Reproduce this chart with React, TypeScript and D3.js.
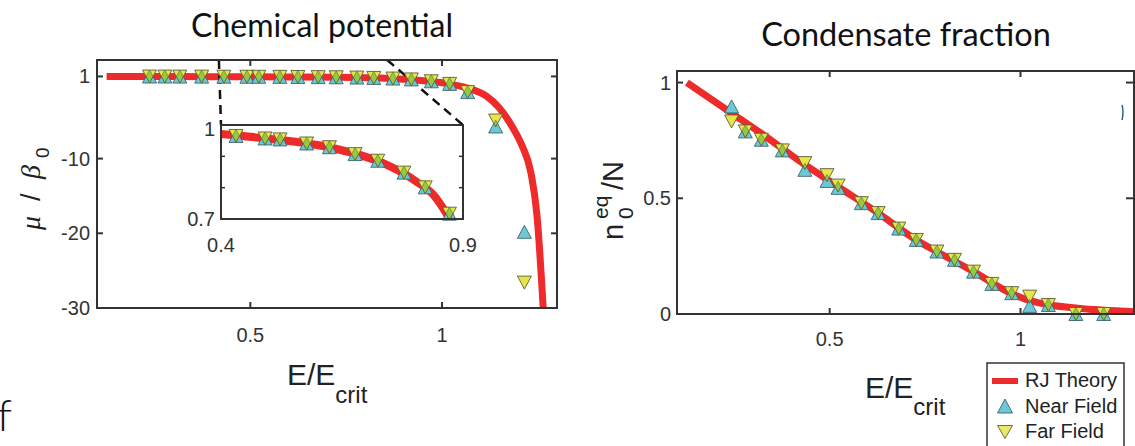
import React from 'react';
import * as d3 from 'd3';

// ---------- data ----------
const muX = [0.237, 0.277, 0.316, 0.373, 0.431, 0.491, 0.522, 0.577, 0.624, 0.677, 0.724, 0.778, 0.822, 0.872, 0.92, 0.972, 1.02, 1.067, 1.14, 1.215];
const muNear = [0.99, 0.985, 0.98, 0.975, 0.965, 0.957, 0.954, 0.941, 0.929, 0.907, 0.886, 0.848, 0.801, 0.717, 0.6, 0.35, 0.0, -1.1, -5.7, -19.8];
const muFar = [0.99, 0.985, 0.98, 0.975, 0.965, 0.957, 0.954, 0.941, 0.929, 0.907, 0.886, 0.848, 0.801, 0.717, 0.6, 0.35, 0.0, -1.1, -4.9, -26.6];
const muTheoryX = [0.125, 0.2, 0.3, 0.4, 0.494, 0.632, 0.735, 0.804, 0.839, 0.87, 0.92, 0.97, 1.018, 1.078, 1.115, 1.149, 1.183, 1.209, 1.232, 1.248, 1.264];
const muTheoryY = [1.0, 0.995, 0.985, 0.971, 0.957, 0.926, 0.878, 0.819, 0.777, 0.707, 0.56, 0.32, 0.0, -0.75, -1.6, -3.2, -5.7, -8.3, -11.9, -17.7, -30];

const fracX = [0.243, 0.279, 0.321, 0.376, 0.435, 0.493, 0.522, 0.583, 0.627, 0.681, 0.727, 0.781, 0.827, 0.877, 0.925, 0.977, 1.024, 1.073, 1.145, 1.218];
const fracNear = [0.897, 0.789, 0.753, 0.707, 0.623, 0.575, 0.545, 0.479, 0.436, 0.369, 0.32, 0.27, 0.234, 0.183, 0.13, 0.09, 0.035, 0.039, 0.0, 0.0];
const fracFar = [0.832, 0.789, 0.753, 0.707, 0.652, 0.6, 0.555, 0.479, 0.436, 0.369, 0.32, 0.27, 0.234, 0.183, 0.13, 0.09, 0.075, 0.039, 0.0, 0.0];
const fracTheoryX = [0.126, 0.243, 0.321, 0.435, 0.522, 0.627, 0.727, 0.78, 0.877, 0.974, 1.02, 1.078, 1.15, 1.3];
const fracTheoryY = [1.0, 0.868, 0.78, 0.645, 0.55, 0.436, 0.32, 0.27, 0.183, 0.09, 0.06, 0.039, 0.025, 0.01];

const xTicks = [0.5, 1];
const muTicksY = [1, -10, -20, -30];
const insetTicksY = [0.8, 0.9];
const insetLabelsX = [0.4, 0.9];
const insetLabelsY = [1, 0.7];
const fracTicksY = [0, 0.5, 1];
const legendLabels = ['RJ Theory', 'Near Field', 'Far Field'];
const titles = ['Chemical potential', 'Condensate fraction'];
// inset zoom window, in main-axis units
const zoomEdges = [0.418, 0.857];

// ---------- styles ----------
const RED = '#ee2a2a';
const NEAR = '#6cc8d6';
const FAR = '#e6e64a';
const AX = '#333333';
const SANS = '"Liberation Sans", Arial, sans-serif';
const TITLE = 'Lato, "Open Sans", sans-serif';
const SERIF = '"Liberation Serif", "DejaVu Serif", serif';

const TW = 14, TH = 13;
function tri(up: boolean, cx: number, cy: number, w = TW, h = TH) {
  if (up) return `M${cx},${cy - h / 2}L${cx + w / 2},${cy + h / 2}L${cx - w / 2},${cy + h / 2}Z`;
  return `M${cx},${cy + h / 2}L${cx + w / 2},${cy - h / 2}L${cx - w / 2},${cy - h / 2}Z`;
}

function Markers({ xs, near, far, x, y, keyp }: any) {
  return (
    <g style={{ isolation: 'isolate' }}>
      {xs.map((v: number, i: number) => (
        <path key={keyp + 'n' + i} d={tri(true, x(v), y(near[i]))} fill={NEAR} stroke="#3f6470" strokeWidth={0.9} />
      ))}
      {xs.map((v: number, i: number) => (
        <path key={keyp + 'm' + i} d={tri(false, x(v), y(far[i]))} fill={FAR} style={{ mixBlendMode: 'multiply' }} />
      ))}
      {xs.map((v: number, i: number) => (
        <path key={keyp + 'f' + i} d={tri(false, x(v), y(far[i]))} fill={FAR} fillOpacity={0.4} stroke="#5d5d3a" strokeWidth={0.9} />
      ))}
    </g>
  );
}

function Box({ x0, x1, y0, y1 }: any) {
  return <rect x={x0} y={y0} width={x1 - x0} height={y1 - y0} fill="none" stroke={AX} strokeWidth={2} />;
}

export default function App() {
  // left panel
  const xL = d3.scaleLinear().domain([0.1, 1.3]).range([97, 557]);
  const yL = d3.scaleLinear().domain([-30, 3.2]).range([308, 60]);
  // inset
  const xI = d3.scaleLinear().domain([0.4, 0.9]).range([221, 463]);
  const yI = d3.scaleLinear().domain([0.7, 1]).range([219, 125]);
  // right panel
  const xR = d3.scaleLinear().domain([0.1, 1.3]).range([677, 1135]);
  const yR = d3.scaleLinear().domain([0, 1.05]).range([314, 71]);

  const muTheory = muTheoryX.map((v, i) => [v, muTheoryY[i]] as [number, number]);
  const fracTheory = fracTheoryX.map((v, i) => [v, fracTheoryY[i]] as [number, number]);

  const lineL = d3.line<[number, number]>().x(d => xL(d[0])).y(d => yL(d[1])).curve(d3.curveMonotoneX);
  const lineI = d3.line<[number, number]>().x(d => xI(d[0])).y(d => yI(d[1])).curve(d3.curveMonotoneX);
  const lineR = d3.line<[number, number]>().x(d => xR(d[0])).y(d => yR(d[1])).curve(d3.curveMonotoneX);

  const inIdx = muX.map((v, i) => i).filter(i => muX[i] >= 0.4 && muX[i] <= 0.9);

  const [lx0, lx1] = xL.range();
  const [ly0, ly1] = [yL.range()[1], yL.range()[0]];
  const [ix0, ix1] = xI.range();
  const [iy0, iy1] = [yI.range()[1], yI.range()[0]];
  const [rx0, rx1] = [xR.range()[0], xR.range()[1] - 1];
  const [ry0, ry1] = [yR.range()[1], yR.range()[0]];

  return (
    <svg width={1135} height={446} style={{ position: 'absolute', left: 0, top: 0, background: '#fff' }}>
      <defs>
        <clipPath id="clipL"><rect x={lx0} y={ly0} width={lx1 - lx0} height={ly1 - ly0} /></clipPath>
        <clipPath id="clipI"><rect x={ix0} y={iy0} width={ix1 - ix0} height={iy1 - iy0} /></clipPath>
        <clipPath id="clipR"><rect x={rx0} y={ry0} width={rx1 - rx0} height={ry1 - ry0} /></clipPath>
      </defs>
      <rect x={0} y={0} width={1135} height={446} fill="#fff" />

      {/* titles */}
      <text x={322} y={37} textAnchor="middle" fontFamily={TITLE} fontSize={32} fill="#111">{titles[0]}</text>
      <text x={906} y={46} textAnchor="middle" fontFamily={TITLE} fontSize={32.5} fill="#111">{titles[1]}</text>
      <text x={-3} y={431} fontFamily={TITLE} fontWeight={300} fontSize={44} fill="#111">f</text>

      {/* ===== Left panel ===== */}
      <g clipPath="url(#clipL)">
        <path d={lineL(muTheory) || ''} fill="none" stroke={RED} strokeWidth={7} />
      </g>
      {/* dashed zoom connectors */}
      <line x1={xL(zoomEdges[0])} y1={yL(3.2)} x2={xI(0.4)} y2={yI(1)} stroke="#111" strokeWidth={2.5} strokeDasharray="9,6" />
      <line x1={xL(zoomEdges[1])} y1={yL(3.2)} x2={xI(0.9)} y2={yI(1)} stroke="#111" strokeWidth={2.5} strokeDasharray="9,6" />
      <Markers xs={muX} near={muNear} far={muFar} x={xL} y={yL} keyp="L" />
      <Box x0={lx0} x1={lx1} y0={ly0} y1={ly1} />
      {xTicks.map(t => (
        <g key={'lxt' + t}>
          <line x1={xL(t)} x2={xL(t)} y1={ly1} y2={ly1 - 6} stroke={AX} strokeWidth={2} />
          <line x1={xL(t)} x2={xL(t)} y1={ly0} y2={ly0 + 6} stroke={AX} strokeWidth={2} />
          <text x={xL(t)} y={342} textAnchor="middle" fontFamily={SANS} fontSize={20} fill="#333">{String(t)}</text>
        </g>
      ))}
      {muTicksY.map(t => (
        <g key={'lyt' + t}>
          <line x1={lx0} x2={lx0 + 6} y1={yL(t)} y2={yL(t)} stroke={AX} strokeWidth={2} />
          <line x1={lx1} x2={lx1 - 6} y1={yL(t)} y2={yL(t)} stroke={AX} strokeWidth={2} />
          <text x={90} y={yL(t) + 7} textAnchor="end" fontFamily={SANS} fontSize={20} fill="#333">{String(t)}</text>
        </g>
      ))}
      {/* left x label */}
      <text x={287} y={385} fontFamily={SANS} fontSize={30} fill="#222">E/E<tspan dy={18} fontSize={24}>crit</tspan></text>
      {/* left y label */}
      <g transform="translate(40,0) rotate(-90)">
        <text x={-230} y={0} fontFamily={SERIF} fontStyle="italic" fontSize={28} fill="#222">μ</text>
        <text x={-201} y={0} fontFamily={SANS} fontSize={27} fill="#222">/</text>
        <text x={-179} y={0} fontFamily={SERIF} fontStyle="italic" fontSize={28} fill="#222">β</text>
        <text x={-158} y={9} fontFamily={SANS} fontSize={19} fill="#222">0</text>
      </g>

      {/* ===== Inset ===== */}
      <rect x={ix0} y={iy0} width={ix1 - ix0} height={iy1 - iy0} fill="#fff" />
      <g clipPath="url(#clipI)">
        <path d={lineI(muTheory) || ''} fill="none" stroke={RED} strokeWidth={8} />
      </g>
      <Markers xs={inIdx.map(i => muX[i])} near={inIdx.map(i => muNear[i])} far={inIdx.map(i => muFar[i])} x={xI} y={yI} keyp="I" />
      <Box x0={ix0} x1={ix1} y0={iy0} y1={iy1} />
      {insetTicksY.map(t => (
        <g key={'iyt' + t}>
          <line x1={ix0} x2={ix0 + 4} y1={yI(t)} y2={yI(t)} stroke={AX} strokeWidth={1.5} />
          <line x1={ix1} x2={ix1 - 4} y1={yI(t)} y2={yI(t)} stroke={AX} strokeWidth={1.5} />
        </g>
      ))}
      {insetLabelsY.map(t => (
        <text key={'iyl' + t} x={215} y={yI(t) + 7 + (t === 1 ? 4 : 0)} textAnchor="end" fontFamily={SANS} fontSize={20} fill="#333">{String(t)}</text>
      ))}
      {insetLabelsX.map(t => (
        <text key={'ixl' + t} x={xI(t)} y={252} textAnchor="middle" fontFamily={SANS} fontSize={20} fill="#333">{String(t)}</text>
      ))}

      {/* ===== Right panel ===== */}
      <g clipPath="url(#clipR)">
        <path d={lineR(fracTheory) || ''} fill="none" stroke={RED} strokeWidth={7} />
      </g>
      <Markers xs={fracX} near={fracNear} far={fracFar} x={xR} y={yR} keyp="R" />
      <Box x0={rx0} x1={rx1} y0={ry0} y1={ry1} />
      {xTicks.map(t => (
        <g key={'rxt' + t}>
          <line x1={xR(t)} x2={xR(t)} y1={ry1} y2={ry1 - 6} stroke={AX} strokeWidth={2} />
          <line x1={xR(t)} x2={xR(t)} y1={ry0} y2={ry0 + 6} stroke={AX} strokeWidth={2} />
          <text x={xR(t)} y={346} textAnchor="middle" fontFamily={SANS} fontSize={20} fill="#333">{String(t)}</text>
        </g>
      ))}
      {fracTicksY.map(t => (
        <g key={'ryt' + t}>
          <line x1={rx0} x2={rx0 + 6} y1={yR(t)} y2={yR(t)} stroke={AX} strokeWidth={2} />
          <line x1={rx1} x2={rx1 - 8} y1={yR(t)} y2={yR(t)} stroke={AX} strokeWidth={2} />
          <text x={671} y={yR(t) + 7} textAnchor="end" fontFamily={SANS} fontSize={20} fill="#333">{String(t)}</text>
        </g>
      ))}
      <path d="M1122,105 Q1124,112 1122,120" fill="none" stroke="#3b5b8a" strokeWidth={1.5} />
      {/* right x label */}
      <text x={865} y={398} fontFamily={SANS} fontSize={30} fill="#222">E/E<tspan dy={17} fontSize={24}>crit</tspan></text>
      {/* right y label */}
      <g transform="translate(623,0) rotate(-90)">
        <text x={-240} y={0} fontFamily={SANS} fontSize={29} fill="#222">n</text>
        <text x={-219} y={-15} fontFamily={SANS} fontSize={21} fill="#222">eq</text>
        <text x={-219} y={10} fontFamily={SANS} fontSize={21} fill="#222">0</text>
        <text x={-190} y={0} fontFamily={SANS} fontSize={29} fill="#222">/N</text>
      </g>

      {/* legend */}
      <rect x={987} y={363} width={137} height={100} fill="#fff" stroke={AX} strokeWidth={1.5} />
      <line x1={992} x2={1018} y1={381} y2={381} stroke={RED} strokeWidth={6} />
      <path d={tri(true, 1005, 406, 15, 14)} fill={NEAR} stroke="#3f6470" strokeWidth={0.9} />
      <path d={tri(false, 1005, 432, 15, 13)} fill={FAR} fillOpacity={0.85} stroke="#5d5d3a" strokeWidth={0.9} />
      {legendLabels.map((s, i) => (
        <text key={s} x={1025} y={387 + i * 25.5} fontFamily={SANS} fontSize={20} fill="#222">{s}</text>
      ))}
    </svg>
  );
}
